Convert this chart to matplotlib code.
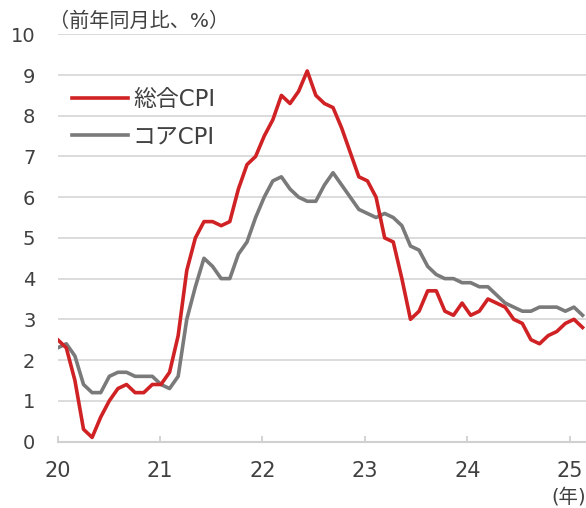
import numpy as np
import matplotlib
matplotlib.use("Agg")
import matplotlib.pyplot as plt

plt.rcParams['font.family'] = ['DejaVu Sans', 'Noto Sans CJK JP']

# 米国CPI 前年同月比（%）、2020年1月〜2025年2月
headline = [2.5, 2.3, 1.5, 0.3, 0.1, 0.6, 1.0, 1.3, 1.4, 1.2, 1.2, 1.4,
            1.4, 1.7, 2.6, 4.2, 5.0, 5.4, 5.4, 5.3, 5.4, 6.2, 6.8, 7.0,
            7.5, 7.9, 8.5, 8.3, 8.6, 9.1, 8.5, 8.3, 8.2, 7.7, 7.1, 6.5,
            6.4, 6.0, 5.0, 4.9, 4.0, 3.0, 3.2, 3.7, 3.7, 3.2, 3.1, 3.4,
            3.1, 3.2, 3.5, 3.4, 3.3, 3.0, 2.9, 2.5, 2.4, 2.6, 2.7, 2.9,
            3.0, 2.8]
core = [2.3, 2.4, 2.1, 1.4, 1.2, 1.2, 1.6, 1.7, 1.7, 1.6, 1.6, 1.6,
        1.4, 1.3, 1.6, 3.0, 3.8, 4.5, 4.3, 4.0, 4.0, 4.6, 4.9, 5.5,
        6.0, 6.4, 6.5, 6.2, 6.0, 5.9, 5.9, 6.3, 6.6, 6.3, 6.0, 5.7,
        5.6, 5.5, 5.6, 5.5, 5.3, 4.8, 4.7, 4.3, 4.1, 4.0, 4.0, 3.9,
        3.9, 3.8, 3.8, 3.6, 3.4, 3.3, 3.2, 3.2, 3.3, 3.3, 3.3, 3.2,
        3.3, 3.1]
year_labels = ["20", "21", "22", "23", "24", "25"]

months = np.arange(len(headline))
red = "#d02224"
gray = "#7a7a7a"
txt = "#404040"

fig = plt.figure(figsize=(5.86, 5.08), dpi=100)
ax = fig.add_axes([57.7 / 586, 1 - 441.5 / 508, 1 - 57.7 / 586, (441.5 - 34.3) / 508])

ax.plot(months, headline, color=red, lw=2.6, label="総合CPI", zorder=3)
ax.plot(months, core, color=gray, lw=2.6, label="コアCPI", zorder=2)

ax.set_ylim(0, 10)
ax.set_xlim(0, 61.4)
ax.set_yticks(range(0, 11))
ax.set_xticks([11.9 * i for i in range(len(year_labels))])
ax.set_xticklabels(year_labels)

ax.grid(axis="y", color="#d9d9d9", lw=1.3)
ax.set_axisbelow(True)
for s in ["top", "right", "left"]:
    ax.spines[s].set_visible(False)
ax.spines["bottom"].set_color("#d0d0d0")
ax.spines["bottom"].set_linewidth(1.5)

ax.tick_params(axis="y", length=0, pad=16, labelsize=14, labelcolor=txt)
ax.tick_params(axis="x", direction="in", length=4, width=1.3, color="#d0d0d0",
               pad=14, labelsize=15, labelcolor=txt)

leg = ax.legend(loc="upper left", bbox_to_anchor=(0.01, 0.89), frameon=False,
                fontsize=16.5, handlelength=2.45, handletextpad=0.2,
                labelspacing=0.6, borderaxespad=0)
for t in leg.get_texts():
    t.set_color(txt)

fig.text(49 / 586, 1 - 21 / 508, "（前年同月比、%）", fontsize=14.5, color=txt,
         ha="left", va="center")
fig.text(1.0, 1 - 497 / 508, "(年)", fontsize=14, color=txt,
         ha="right", va="center")

fig.savefig("out.png", dpi=100)
